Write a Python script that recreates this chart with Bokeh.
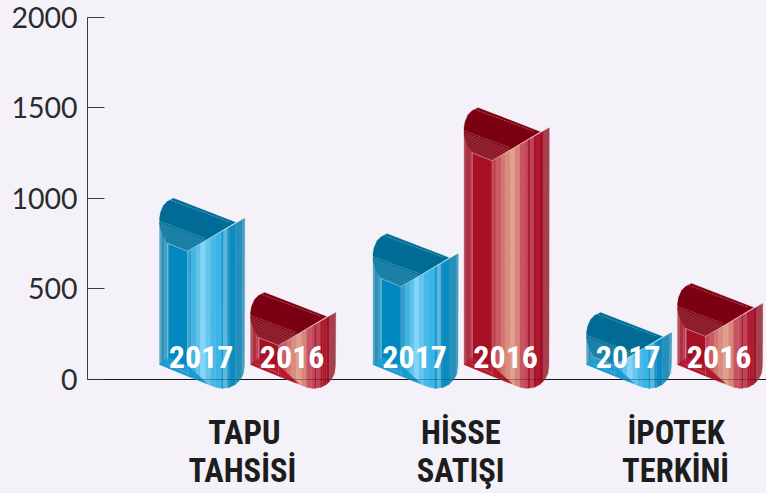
from bokeh.plotting import figure
from bokeh.models import FixedTicker, Span
from bokeh.core.properties import value
from bokeh.embed import file_html
from bokeh.resources import INLINE
import numpy as np

# ---- data ----
categories = ["TAPU\nTAHSİSİ", "HİSSE\nSATIŞI", "İPOTEK\nTERKİNİ"]
years = ["2017", "2016"]
values_2017 = [1000, 805, 370]
values_2016 = [480, 1500, 530]
y_ticks = [0, 500, 1000, 1500, 2000]
label_pos = [0.01, 1.025, 2.04]

BG = "#f4f2f8"
PX_Y = 90.6 / 500          # px per unit
PX_X = 213.5               # px per group
X0 = 247.0                 # px of group 0 centre
Y0 = 379.0                 # px of value 0

blue = dict(cap="#006c96", low="#1c9bd0", left="#0088bf", line="#9fdcf2",
    left_st=[(0,2,"#5aa4c4"),(2,5,"#2c8fb8"),(5,8,"#3f9cc2"),(8,9,"#5cb0d0")],
    right_st=[(28,29,"#3a9ac4"),(29,32,"#2fa0d0"),(32,37,"#45b4e0"),(37,41,"#5cc4ec"),
              (41,46,"#83d4f6"),(46,51,"#62c6ee"),(51,56,"#4ab8e6"),(56,62,"#38b6e8"),
              (62,64,"#1e98cc"),(64,68,"#5ab8dc"),(68,70,"#1a92c4"),(70,76,"#0b8cc0"),
              (76,83,"#2590bb"),(83,85,"#4a9cc0")])
red = dict(cap="#7b0011", low="#b31a30", left="#a51025", line="#eeb0b0",
    left_st=[(0,2,"#b05468"),(2,6,"#b03040"),(6,8,"#b83b50"),(8,9,"#c45a6a")],
    right_st=[(28,29,"#c04456"),(29,32,"#c04456"),(32,37,"#cc5a64"),(37,41,"#d4786f"),
              (41,46,"#d98c80"),(46,51,"#e0a08c"),(51,56,"#d8857c"),(56,61,"#c85462"),
              (61,64,"#c44a5a"),(64,66,"#a82036"),(66,70,"#c04458"),(70,72,"#a51428"),
              (72,76,"#b01a30"),(76,79,"#a01228"),(79,85,"#a5404f")])

W, H = 766, 493
p = figure(width=W, height=H, output_backend="svg", toolbar_location=None,
           x_range=((87 - X0) / PX_X, (766 - X0) / PX_X),
           y_range=((Y0 - 493) / PX_Y, Y0 / PX_Y),
           background_fill_color=BG, border_fill_color=BG,
           min_border_left=87, min_border_right=0, min_border_top=0, min_border_bottom=0)
p.grid.visible = False
p.outline_line_color = None

# helpers: pixel offsets to data
def dx(left_px, off):
    return (left_px + off - X0) / PX_X
BOT_PTS = [(0,-24),(44,-6),(50,-3.5),(56,-1.2),(63,0),(70,-1),(76,-4),(81,-9),(84,-15),(85,-20),(85,-23)]
bx = np.array([a for a, _ in BOT_PTS], float)
by = np.array([b for _, b in BOT_PTS], float)

def bottom_y(off):
    return np.interp(off, bx, by)

def draw_bar(group, slot, val, st):
    left = X0 + group * PX_X - 88 + slot * 91
    top_px = Y0 - val * PX_Y
    bot_px = Y0 + 9
    to_y = lambda y_px: (Y0 - y_px) / PX_Y
    T = lambda o: to_y(top_px + o)
    B = lambda o: to_y(bot_px + o)
    xs, ys, cs = [], [], []
    # left face
    for a, b, c in st["left_st"] + [(9, 28, st["left"])]:
        grid = np.linspace(a, b, 4)
        xs.append([dx(left, g) for g in grid] + [dx(left, b), dx(left, a)])
        ys.append([B(bottom_y(g)) for g in grid] + [T(25), T(25)])
        cs.append(c)
    # right face
    for a, b, c in st["right_st"]:
        grid = np.unique(np.concatenate([np.linspace(a, b, 3), bx[(bx > a) & (bx < b)]]))
        te = lambda o: 53 - (o - 28) * 33 / 57
        xs.append([dx(left, g) for g in grid] + [dx(left, b + 0.3), dx(left, a)])
        ys.append([B(bottom_y(g)) for g in grid] + [T(te(b)), T(te(a))])
        cs.append(c)
    # bottom fold
    fold = [(0,-24),(9,-31),(28,-23),(48,-5),(44,-6)]
    xs.append([dx(left, a) for a, _ in fold]); ys.append([B(b) for _, b in fold]); cs.append(st["low"])
    # cap
    cap = [(0,20),(1,14),(4,7),(8,3),(14,0),(76,24),(28,53),(8,45),(4,38),(1,30),(0,25)]
    xs.append([dx(left, a) for a, _ in cap]); ys.append([T(b) for _, b in cap]); cs.append(st["cap"])
    p.patches(xs, ys, fill_color=cs, line_color=cs, line_width=0.3)
    # fine lines
    lc = st["line"]
    p.line([dx(left, o) for o in (8, 28, 76)], [T(45), T(53), T(25)], line_color=lc, line_width=0.8, line_alpha=0.8)
    p.line([dx(left, 9), dx(left, 71)], [T(1), T(24)], line_color=lc, line_width=0.8, line_alpha=0.55, line_dash="2 1")
    p.line([dx(left, 0), dx(left, 46)], [T(23), T(40)], line_color=lc, line_width=0.8, line_alpha=0.55, line_dash="2 1")
    p.line([dx(left, 28), dx(left, 28)], [T(53), B(-13)], line_color=lc, line_width=0.6, line_alpha=0.45)
    p.line([dx(left, 8), dx(left, 8)], [T(45), B(-27)], line_color=lc, line_width=0.6, line_alpha=0.4)
    hx, hy = [], []
    for k in np.arange(2, 19, 1.5):
        yy0 = 23 + k
        xa = np.interp(yy0 + 0.37 * 4, [25, 30, 38, 45, 53], [0, 1, 4, 8, 28])
        xb = (30 - k + 16.33) / 0.9533
        hx.append([dx(left, xa), dx(left, xb)])
        hy.append([T(yy0 + 0.37 * xa), T(yy0 + 0.37 * xb)])
    p.multi_line(hx, hy, line_color=lc, line_width=0.6, line_alpha=0.45)
    for k in (3, 6):
        p.line([dx(left, 2 + k), dx(left, 24 + k)], [B(-27 + k * 0.5), B(-17.5 + k * 0.5)],
               line_color=lc, line_width=0.5, line_alpha=0.35)
    return left, to_y

for g in range(len(categories)):
    for slot, (vals, st) in enumerate(((values_2017, blue), (values_2016, red))):
        left, to_y = draw_bar(g, slot, vals[g], st)
        p.text([dx(left, 46)], [to_y(356)], text=[years[slot]],
               text_font=value("Roboto"), text_font_style="bold",
               text_font_size="32px", text_color="white", text_align="center", text_baseline="middle")

p.add_layout(Span(location=0, dimension="width", line_color="#111111", line_alpha=0.3, line_width=1, level="overlay"))

# axes
ya = p.yaxis[0]
ya.ticker = FixedTicker(ticks=y_ticks)
ya.bounds = (0, 2000)
ya.major_tick_in = 17
ya.major_tick_out = 0
ya.minor_tick_line_color = None
ya.axis_line_color = "#3c3c3c"
ya.major_tick_line_color = "#3c3c3c"
ya.major_label_text_font = "Lato"
ya.major_label_text_font_size = "28.5px"
ya.major_label_text_color = "#2b2b2b"
ya.major_label_standoff = 10

xa = p.xaxis[0]
xa.fixed_location = 0
xa.level = "underlay"
xa.ticker = FixedTicker(ticks=label_pos)
xa.major_label_overrides = dict(zip(label_pos, categories))
xa.major_tick_line_color = None
xa.minor_tick_line_color = None
xa.major_tick_in = 0
xa.major_tick_out = 0
xa.axis_line_color = "#1a1a1a"
xa.major_label_text_font = "Roboto"
xa.major_label_text_font_style = "bold"
xa.major_label_text_font_size = "32.5px"
xa.major_label_text_color = "#1d1d1d"
xa.major_label_text_line_height = 1.0
xa.major_label_standoff = 34

html = file_html(p, INLINE)
html = html.replace("</head>", "<style>html,body{background:%s;overflow:hidden;font-stretch:75%%}</style></head>" % BG)
open("out.html", "w").write(html)
